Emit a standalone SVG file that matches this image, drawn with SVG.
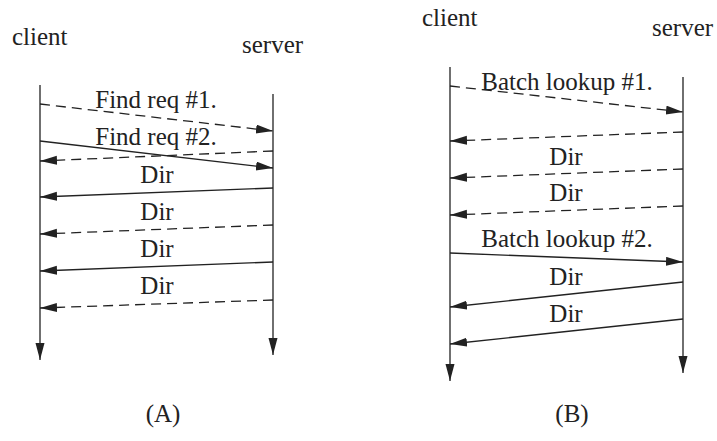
<svg xmlns="http://www.w3.org/2000/svg" width="717" height="441" viewBox="0 0 717 441">
<defs>
<marker id="ah" markerUnits="userSpaceOnUse" markerWidth="18" markerHeight="10" refX="17" refY="4.5" orient="auto">
<path d="M0,0 L17,4.5 L0,9 z" fill="#222"/>
</marker>
</defs>
<style>
text{font-family:"Liberation Serif","Times New Roman",serif;font-size:25px;fill:#222}
.m{text-anchor:middle}
line{stroke:#222;stroke-width:1.3;fill:none}
.d{stroke-dasharray:10,6}
.a{marker-end:url(#ah)}
</style>
<rect width="717" height="441" fill="#fff"/>
<g id="diagramA">
<g id="A-client"><text x="12" y="45">client</text><line class="a" x1="40" y1="85" x2="40" y2="360"/></g>
<g id="A-server"><text x="242" y="53">server</text><line class="a" x1="273" y1="94" x2="273" y2="355"/></g>
<g id="A-connectors">
<line class="d a" x1="40" y1="104" x2="273" y2="131"/>
<line class="a" x1="40" y1="141" x2="273" y2="168"/>
<line class="d a" x1="273" y1="151" x2="40" y2="161"/>
<line class="a" x1="273" y1="188" x2="40" y2="197"/>
<line class="d a" x1="273" y1="225" x2="40" y2="234"/>
<line class="a" x1="273" y1="262" x2="40" y2="271"/>
<line class="d a" x1="273" y1="300" x2="40" y2="308"/>
</g>
<g id="A-labels">
<text class="m" x="156" y="108">Find req #1.</text>
<text class="m" x="156" y="145">Find req #2.</text>
<text class="m" x="157" y="183">Dir</text>
<text class="m" x="157" y="220">Dir</text>
<text class="m" x="157" y="257">Dir</text>
<text class="m" x="157" y="294">Dir</text>
</g>
<text id="A-caption" class="m" x="163" y="422">(A)</text>
</g>
<g id="diagramB">
<g id="B-client"><text x="422" y="26">client</text><line class="a" x1="450" y1="67" x2="450" y2="381"/></g>
<g id="B-server"><text x="652" y="36">server</text><line class="a" x1="683" y1="77" x2="683" y2="373"/></g>
<g id="B-connectors">
<line class="d a" x1="450" y1="86" x2="683" y2="112"/>
<line class="d a" x1="683" y1="132" x2="450" y2="141"/>
<line class="d a" x1="683" y1="169" x2="450" y2="178"/>
<line class="d a" x1="683" y1="206" x2="450" y2="215"/>
<line class="a" x1="450" y1="253" x2="683" y2="262"/>
<line class="a" x1="683" y1="282" x2="450" y2="307"/>
<line class="a" x1="683" y1="319" x2="450" y2="344"/>
</g>
<g id="B-labels">
<text class="m" x="567" y="90">Batch lookup #1.</text>
<text class="m" x="566" y="165">Dir</text>
<text class="m" x="566" y="201">Dir</text>
<text class="m" x="567" y="247">Batch lookup #2.</text>
<text class="m" x="566" y="285">Dir</text>
<text class="m" x="566" y="322">Dir</text>
</g>
<text id="B-caption" class="m" x="572" y="422">(B)</text>
</g>
</svg>
